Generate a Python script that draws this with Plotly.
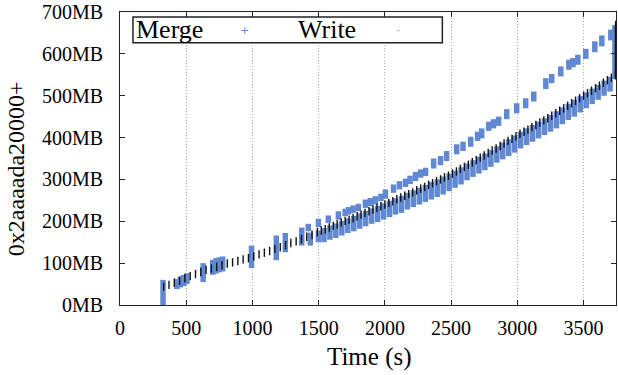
import plotly.graph_objects as go

# Merge bursts: time (s) and the lowest / highest offset (MB) touched in each burst
merge_t = [325, 430, 455, 480, 505, 628, 700, 725, 750, 775, 993, 1180, 1248, 1372, 1437, 1498,
           1422, 1498, 1573, 1649, 1700, 1725, 1760, 1800, 1853, 1890, 1929, 1970, 2004, 2065, 2110,
           2156, 2190, 2231, 2270, 2307, 2368, 2420, 2466, 2542, 2590, 2648, 2700, 2731, 2784, 2820,
           2859, 2920, 2995, 3063, 3124, 3215, 3260, 3328, 3389, 3420, 3457, 3517, 3585, 3638, 3706,
           1540, 1585, 1630, 1675, 1720, 1765, 1810, 1855, 1900, 1945, 1990, 2035, 2080, 2125, 2170,
           2215, 2260, 2305, 2350, 2395, 2440, 2485, 2530, 2575, 2620, 2665, 2710, 2755, 2800, 2845,
           2890, 2935, 2980, 3025, 3070, 3115, 3160, 3205, 3250, 3295, 3340, 3385, 3430, 3475, 3520,
           3565, 3610, 3655, 3700, 3737]
merge_lo = [0, 38, 42, 45, 50, 55, 72, 75, 78, 80, 88, 107, 126, 142, 142, 150,
            176, 186, 196, 204, 212, 216, 220, 224, 232, 236, 240, 248, 254, 268, 276,
            282, 289, 296, 304, 308, 326, 334, 344, 360, 368, 378, 392, 398, 416, 422,
            428, 444, 458, 470, 486, 516, 530, 546, 562, 568, 574, 588, 604, 618, 632,
            150, 156, 160, 166, 172, 176, 182, 188, 194, 198, 204, 210, 216, 220, 228,
            234, 240, 246, 252, 258, 264, 272, 280, 288, 298, 306, 314, 322, 330, 340,
            348, 356, 364, 374, 382, 390, 398, 406, 414, 422, 432, 442, 450, 460, 470,
            480, 490, 500, 510, 540]
merge_hi = [60, 62, 68, 72, 76, 100, 108, 112, 114, 116, 142, 166, 172, 185, 173, 178,
            194, 206, 214, 224, 230, 234, 238, 242, 252, 256, 260, 266, 276, 288, 296,
            302, 309, 318, 324, 328, 350, 356, 368, 384, 390, 402, 414, 422, 438, 444,
            450, 468, 482, 494, 510, 542, 552, 570, 586, 590, 598, 612, 630, 644, 658,
            184, 190, 195, 201, 207, 213, 219, 225, 231, 237, 243, 249, 255, 261, 268,
            274, 280, 287, 294, 300, 307, 314, 321, 329, 338, 346, 354, 362, 370, 379,
            388, 396, 405, 414, 422, 430, 438, 446, 454, 463, 472, 481, 490, 499, 508,
            517, 526, 536, 545, 669]

# Write events: time (s) and offset (MB)
write_t = [330, 370, 410, 450, 490, 530, 570, 610, 650, 690, 730, 770, 810, 850, 890,
           930, 970, 1010, 1050, 1090, 1130, 1170, 1210, 1250, 1290, 1330, 1370, 1410, 1450, 1490,
           1520, 1550, 1580, 1610, 1640, 1670, 1700, 1730, 1760, 1790, 1820, 1850, 1880, 1910, 1940,
           1970, 2000, 2030, 2060, 2090, 2120, 2150, 2180, 2210, 2240, 2270, 2300, 2330, 2360, 2390,
           2420, 2450, 2480, 2510, 2540, 2570, 2600, 2630, 2660, 2690, 2720, 2750, 2780, 2810, 2840,
           2870, 2900, 2930, 2960, 2990, 3020, 3050, 3080, 3110, 3140, 3170, 3200, 3230, 3260, 3290,
           3320, 3350, 3380, 3410, 3440, 3470, 3500, 3530, 3560, 3590, 3620, 3650, 3680, 3710, 3740,
           3742, 3742, 3742, 3742, 3742, 3742, 3742, 3742, 3742, 3742, 3742, 3742, 3742, 3742, 3742]
write_mb = [44, 48, 53, 58, 64, 69, 74, 79, 84, 87, 91, 95, 99, 102, 105,
            109, 112, 116, 121, 125, 129, 134, 138, 143, 148, 152, 157, 163, 168, 174,
            178, 181, 185, 189, 193, 197, 201, 204, 208, 212, 216, 220, 224, 228, 232,
            236, 240, 244, 248, 253, 257, 261, 265, 269, 274, 278, 282, 287, 291, 296,
            300, 305, 309, 314, 319, 325, 330, 335, 341, 346, 352, 357, 363, 369, 374,
            380, 386, 392, 397, 403, 409, 414, 419, 425, 430, 436, 441, 446, 452, 458,
            464, 470, 476, 482, 488, 494, 500, 506, 512, 518, 524, 531, 537, 543, 549,
            557, 565, 573, 581, 589, 597, 605, 613, 621, 629, 637, 645, 653, 661, 669]

x_ticks = [0, 500, 1000, 1500, 2000, 2500, 3000, 3500]
y_ticks = [0, 100, 200, 300, 400, 500, 600, 700]
y_tick_labels = ["0MB", "100MB", "200MB", "300MB", "400MB", "500MB", "600MB", "700MB"]

MERGE_COLOR = "#6189d3"
FONT = "Liberation Serif"

# each merge burst is a vertical run of points: draw it as one segment
seg_x, seg_y = [], []
for t, lo, hi in zip(merge_t, merge_lo, merge_hi):
    seg_x += [t, t, None]
    seg_y += [lo, hi, None]

fig = go.Figure()
fig.add_trace(go.Scatter(
    x=seg_x, y=seg_y, mode="lines", name="Merge",
    line=dict(color=MERGE_COLOR, width=5.5), hoverinfo="skip",
))
fig.add_trace(go.Scatter(
    x=write_t, y=write_mb, mode="markers", name="Write",
    marker=dict(symbol="line-ns", size=6, line=dict(color="#111111", width=1.4)),
))

axis_common = dict(
    showline=True, linecolor="#222222", linewidth=1, mirror="ticks",
    ticks="inside", ticklen=5, tickwidth=1, tickcolor="#222222",
    zeroline=False, ticklabeloverflow="allow",
    tickfont=dict(family=FONT, size=20, color="#000000"),
)

fig.update_xaxes(
    range=[0, 3745], tickvals=x_ticks,
    showgrid=True, gridcolor="#a8a8a8", griddash="1px,2px", gridwidth=1,
    ticklabelstandoff=5,
    **axis_common,
)
fig.update_yaxes(
    range=[0, 700], tickvals=y_ticks, ticktext=y_tick_labels,
    showgrid=False, ticklabelstandoff=12,
    **axis_common,
)

W, H = 618, 375
L, R, T, B = 120, 1, 10, 70
pw, ph = W - L - R, H - T - B


def px_x(px):
    return (px - L) / pw


def px_y(py):
    return (H - B - py) / ph


annotations = [
    # axis titles
    dict(text="Time (s)", x=px_x(370), y=px_y(357), xref="paper", yref="paper",
         showarrow=False, font=dict(family=FONT, size=25, color="#000000"),
         xanchor="center", yanchor="middle"),
    dict(text="0x2aaaada20000+", x=px_x(16), y=px_y(168), xref="paper", yref="paper",
         showarrow=False, textangle=-90, font=dict(family=FONT, size=24, color="#000000"),
         xanchor="center", yanchor="middle"),
    # key
    dict(text="Merge", x=px_x(134), y=px_y(28), xref="paper", yref="paper",
         showarrow=False, font=dict(family=FONT, size=26, color="#000000"),
         xanchor="left", yanchor="middle"),
    dict(text="+", x=px_x(245), y=px_y(29), xref="paper", yref="paper",
         showarrow=False, font=dict(family="DejaVu Sans", size=11, color=MERGE_COLOR),
         xanchor="center", yanchor="middle"),
    dict(text="Write", x=px_x(296), y=px_y(28), xref="paper", yref="paper",
         showarrow=False, font=dict(family=FONT, size=26, color="#000000"),
         xanchor="left", yanchor="middle"),
    dict(text="·", x=px_x(399), y=px_y(29), xref="paper", yref="paper",
         showarrow=False, font=dict(family="DejaVu Sans", size=9, color="#555555"),
         xanchor="center", yanchor="middle"),
]

fig.update_layout(
    width=W, height=H,
    margin=dict(l=L, r=R, t=T, b=B),
    paper_bgcolor="#ffffff", plot_bgcolor="#ffffff",
    showlegend=False,
    annotations=annotations,
    shapes=[dict(type="rect", xref="paper", yref="paper",
                 x0=px_x(133), x1=px_x(443), y0=px_y(41), y1=px_y(15),
                 line=dict(color="#222222", width=1.5), fillcolor="#ffffff", layer="above")],
)

fig.write_html("out.html")
